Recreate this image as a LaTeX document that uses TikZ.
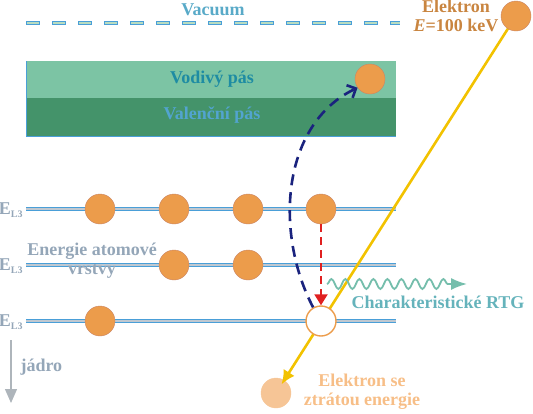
\documentclass[tikz,border=0pt]{standalone}
\usepackage{fontspec}
\setmainfont{Liberation Serif}
\usepackage{tikz}
\usetikzlibrary{arrows.meta,decorations.pathmorphing}

\definecolor{elorange}{HTML}{EC9C4B}
\definecolor{ellight}{HTML}{F6C596}
\definecolor{vodiva}{HTML}{7CC4A4}
\definecolor{valencni}{HTML}{44936A}
\definecolor{hladina}{HTML}{C0C8D0}
\definecolor{okraj}{HTML}{4A9FD8}
\definecolor{vakuum}{HTML}{B8DCC0}
\definecolor{zluta}{HTML}{F2C200}
\definecolor{tmodra}{HTML}{1A237E}
\definecolor{cervena}{HTML}{E02020}
\definecolor{popis}{HTML}{94A6B8}

\begin{document}
\begin{tikzpicture}[>=Latex, x=1pt, y=-1pt, font=\fontsize{18}{19}\selectfont\bfseries,
  elektron/.style={circle, fill=elorange, draw=elorange!85!blue, minimum size=30pt, inner sep=0pt},
  hladina/.style={draw=okraj, line width=0.8pt, double=hladina, double distance=2.4pt},
  carky/.style={dash pattern=on 14pt off 12pt}]
  \useasboundingbox (0,0) rectangle (533,413);

  % Vakuum
  \coordinate (v1) at (26,23);
  \coordinate (v2) at (400,23);
  \draw[okraj, line width=4.4pt, carky] (v1) -- (v2);
  \draw[vakuum, line width=2.8pt, carky, dash phase=-0.8pt, dash pattern=on 12.4pt off 13.6pt] (v1) -- (v2);
  \node[text=okraj!70!vodiva] (vac) at (213,10) {Vacuum};

  % Pasy
  \fill[vodiva] (26,61) rectangle (396,98);
  \fill[valencni] (26,98) rectangle (396,136);
  \draw[okraj, line width=0.8pt] (26,61) -- (26,136) -- (396,136);
  \node[text=teal!60!okraj] (vodivy) at (212,79) {Vodivý pás};
  \node[text=okraj!85!vodiva] (valencni) at (212,115) {Valenční pás};

  % Hladiny
  \foreach \y/\i in {209/1,265/2,321/3} {
    \draw[hladina] (26,\y) -- (396,\y);
    \node[text=popis] (E\i) at (11,\y+1) {E\textsubscript{\fontsize{10}{10}\selectfont L3}};
  }
  \node[text=popis, align=center] (vrstvy) at (92,261) {Energie atomové\\vrstvy};

  % Elektrony v hladinach
  \foreach \x in {100,174,248} \node[elektron] (a\x) at (\x,209) {};
  \node[elektron] (horni) at (321,209) {};
  \foreach \x in {174,248} \node[elektron] (b\x) at (\x,265) {};
  \node[elektron] (c100) at (100,321) {};
  \node[elektron] (vodel) at (370,79) {};

  % Primarni elektron
  \coordinate (p) at (516,16);
  \node[elektron, fill=ellight, draw=ellight] (ztrata) at (276,393) {};
  \draw[zluta, line width=2.6pt, shorten >=-5pt, -{Latex[length=14pt,width=13pt]}] (p) -- (ztrata);
  \node[elektron] (prim) at (p) {};
  \node[elektron, fill=white, draw=elorange, line width=1.4pt] (dira) at (321,321) {};
  \node[text=elorange!85!black, align=center] (elektron) at (456,16) {Elektron\\\textit{E}=100 keV};
  \node[text=ellight!90!orange, align=center] (ztr) at (362,392) {Elektron se\\ztrátou energie};

  % Prechody
  \draw[cervena, line width=2pt, dash pattern=on 8pt off 5pt, -{Triangle[length=11pt,width=13pt]}] (horni) -- (dira);
  \draw[tmodra, line width=2.6pt, dash pattern=on 11pt off 7pt, -{Straight Barb[length=7pt,width=14pt]}] (dira.120) .. controls (275,235) and (280,125) .. (vodel.215);

  % RTG
  \coordinate (r1) at (327,284);
  \coordinate (r2) at (467,284);
  \draw[vodiva!85!okraj, line width=1.8pt, decorate, decoration={snake, segment length=14pt, amplitude=5pt, post length=15pt}, -{Latex[length=16pt,width=12pt]}] (r1) -- (r2);
  \node[text=vodiva!55!okraj] (rtg) at (438,302) {Charakteristické RTG};

  % Jadro
  \coordinate (j1) at (11,340);
  \coordinate (j2) at (11,403);
  \draw[popis!55!gray!70, line width=1.3pt, -{Triangle[length=14pt,width=12pt]}] (j1) -- (j2);
  \node[text=popis, anchor=west] (jadro) at (17,367) {jádro};
\end{tikzpicture}
\end{document}
